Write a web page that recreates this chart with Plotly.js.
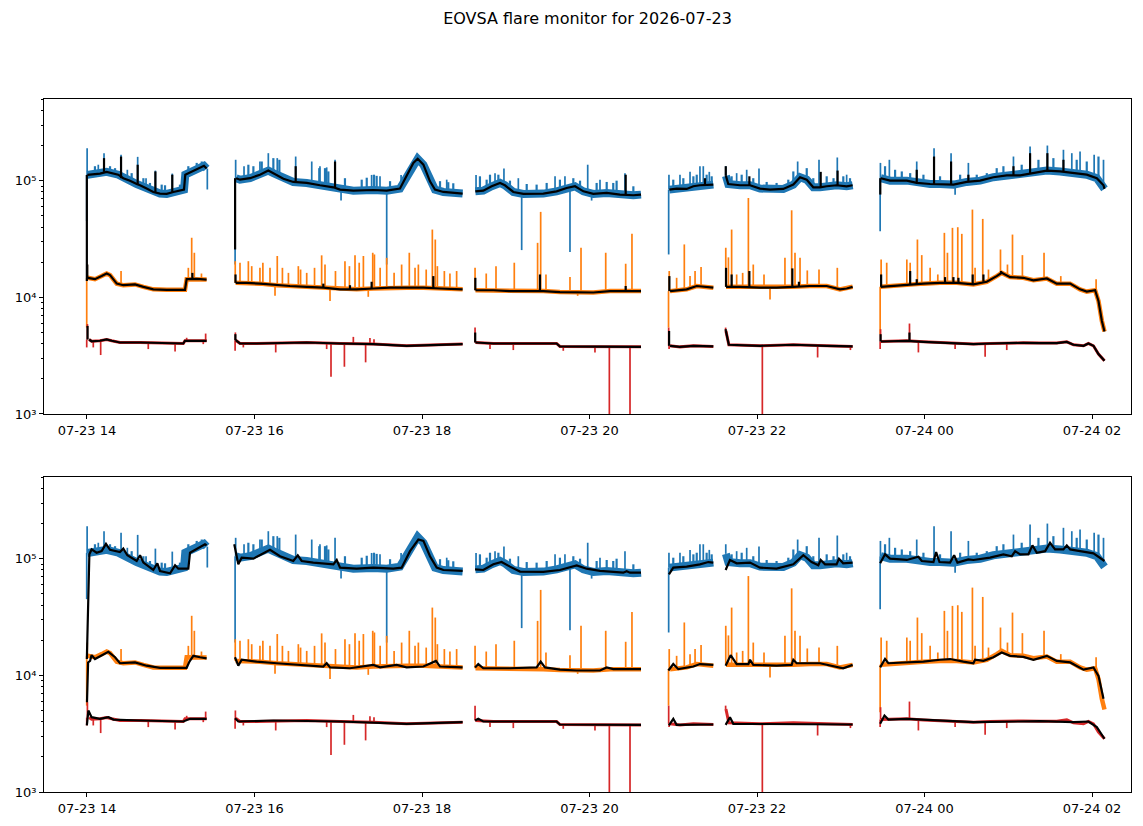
<!DOCTYPE html>
<html><head><meta charset="utf-8">
<script src="https://cdn.plot.ly/plotly-3.0.1.min.js"></script>
<style>body{margin:0;background:#fff}#chart{width:1143px;height:826px}</style>
</head><body><div id="chart"></div>
<script>
// times: minutes after 2026-07-23 00:00 ; null = data gap
// ---- blue series (band centre) ----
const blueT = [840.3,849.3,854.1,862.4,866,870.8,875.6,878,882.7,887.5,892.3,897.1,901.9,906.6,909.5,910.4,916.2,921,923.8,925.7,null,
946.8,949.6,956.8,963.9,969.9,973.5,980.7,987.8,997.4,1006.9,1016.5,1021.3,1030.8,1045.1,1054.7,1064.2,1069,1073.8,1076.9,1081,1085.7,1089.3,1095.3,1102.4,1109.1,null,
1118.2,1123.9,1129.9,1135.9,1139.4,1145.4,1152.6,1166.9,1176.4,1183.6,1189.6,1195.6,1202.7,1212.3,1221.8,1231.4,1236.9,null,
1257.2,1262.4,1269.6,1274.4,1279.1,1283.9,1288.7,null,
1297.7,1299.4,1307.8,1315,1322.1,1329.3,1338.8,1346,1350.8,1355.6,1360.3,1365.1,1369.9,1377,1384.2,1388.5,null,
1408.6,1415.3,1427.3,1434.4,1444,1451.1,1460.7,1470.2,1479.8,1489.3,1498.9,1508.5,1518,1527.6,1537.1,1546.7,1556.2,1563.4,1568.2,1568.9];
const blueV = [1.12e5,1.15e5,1.19e5,1.125e5,1.05e5,1.0e5,9.36e4,9.13e4,8.55e4,8.0e4,7.75e4,7.7e4,8.0e4,8.21e4,8.38e4,1.125e5,1.22e5,1.30e5,1.34e5,1.27e5,null,
1.05e5,1.02e5,1.05e5,1.125e5,1.22e5,1.16e5,1.04e5,9.75e4,9.56e4,9.13e4,8.77e4,8.38e4,8.21e4,8.32e4,8.21e4,8.55e4,1.09e5,1.42e5,1.54e5,1.37e5,9.87e4,8.38e4,8.0e4,7.85e4,7.75e4,null,
8.1e4,8.21e4,8.95e4,9.56e4,9.13e4,8.0e4,7.7e4,7.75e4,8.1e4,8.65e4,8.95e4,8.1e4,7.7e4,7.85e4,7.59e4,7.5e4,7.59e4,null,
8.38e4,8.55e4,8.49e4,8.95e4,9.13e4,9.25e4,9.25e4,null,
1.1e5,9.36e4,9.13e4,9.13e4,8.55e4,8.38e4,8.49e4,9.25e4,1.07e5,1.02e5,8.77e4,8.77e4,8.95e4,9.13e4,8.95e4,9.13e4,null,
1.05e5,1.0e5,1.0e5,9.56e4,9.36e4,9.36e4,9.25e4,9.75e4,1.0e5,1.07e5,1.11e5,1.11e5,1.16e5,1.22e5,1.2e5,1.16e5,1.125e5,1.05e5,9.13e4,8.5e4];
// blue spikes (large peaks / dips)
const blueSpikeT = [839.8,840.1,848.1,852.2,864.4,868.9,876.3,882.3,889,901.1,926.2,
946.1,946.5,952.5,963.9,969.9,976.3,989.5,1001,1006.9,1011.7,1017.7,1022,1043.9,1049.9,1054.7,1065,1097.7,
1118.7,1132.3,1138.7,1149,1151.4,1175.3,1182.4,1186,1198.7,1201.5,1207.5,1225.4,
1256.7,1256.9,1264.8,1272,1279.1,1281.5,1285.8,
1297.6,1305.4,1312.6,1321.4,1349.1,1364.4,1377.5,1384.2,
1408.2,1408.4,1414.8,1434.4,1446.8,1459,1461.9,1471.4,1503.7,1515.6,1528,1539.5,1545.5,1551.4,1561.5,1568.2];
const blueSpikeV = [4.5e4,1.9e5,1.37e5,1.72e5,1.67e5,1.24e5,1.6e5,1.05e5,1.22e5,1.15e5,8.4e4,
1.91e4,1.51e5,1.33e5,1.46e5,1.72e5,1.56e5,1.61e5,1.46e5,1.33e5,1.3e5,1.51e5,6.75e4,1.12e5,1.09e5,1.91e4,1.12e5,1.02e5,
1.12e5,1.16e5,1.27e5,1.05e5,2.54e4,1.09e5,1.09e5,2.44e4,1.37e5,6.75e4,1.02e5,1.16e5,
2.33e4,1.125e5,1.125e5,1.19e5,1.33e5,1.33e5,1.19e5,
1.33e5,1.16e5,1.24e5,1.27e5,1.46e5,1.51e5,1.58e5,1.125e5,
3.69e4,1.42e5,1.51e5,1.46e5,1.9e5,1.72e5,7.59e4,1.42e5,1.61e5,1.96e5,2.0e5,1.84e5,1.72e5,1.78e5,1.67e5,1.51e5];
// blue small fringe peaks on top of the band
const blueFringeT = [845.7,856.5,860.1,872,880.4,885.1,893.5,895.9,906.6,912.6,918.6,922.2,
955.6,959.2,965.2,973.5,977.8,1006.4,1010.5,1012.9,1024.8,1036.8,1040.4,1045.6,1047.5,1057.1,1092.9,1098.8,1102.4,
1121.5,1126.3,1128.7,1134.7,1143,1155,1162.1,1169.3,1178.8,1188.4,1193.2,1205.1,1212.3,1217,1219.4,1231.4,
1260,1267.2,1274.4,1276.8,1283.9,1287.5,
1301.8,1309,1317.3,1326.9,1334,1342.4,1346,1355.6,1360.3,1369.9,1374.8,1381.8,1386.6,
1411.7,1418.9,1423.7,1429.7,1439.2,1451.1,1465.5,1477.4,1484.6,1491.7,1496.5,1509.6,1521.6,1532.3,1549,1556.2,1564.6];
const blueFringeV = [1.33e5,1.33e5,1.28e5,1.16e5,1.05e5,9.56e4,9.25e4,9.13e4,9.25e4,1.33e5,1.42e5,1.46e5,
1.37e5,1.33e5,1.46e5,1.56e5,1.51e5,1.28e5,1.28e5,1.2e5,1.05e5,1.02e5,1.06e5,1.125e5,1.1e5,9.9e4,9.9e4,9.7e4,9.5e4,
1.09e5,1.02e5,1.125e5,1.125e5,1.0e5,9.36e4,9.25e4,9.56e4,1.02e5,1.05e5,1.0e5,9.56e4,9.75e4,9.56e4,1.0e5,8.95e4,
1.02e5,1.05e5,1.09e5,1.125e5,1.125e5,1.09e5,
1.09e5,1.125e5,1.05e5,9.75e4,9.56e4,1.02e5,1.2e5,1.28e5,1.05e5,1.09e5,1.05e5,1.09e5,1.05e5,
1.33e5,1.24e5,1.2e5,1.16e5,1.125e5,1.09e5,1.125e5,1.125e5,1.16e5,1.28e5,1.33e5,1.37e5,1.51e5,1.56e5,1.51e5,1.46e5,1.61e5];
// ---- orange series ----
const orangeT = [840.5,845.7,850.5,854.1,856.5,861.3,866,874.4,880.4,887.5,897.1,910.2,911.4,918.6,925.7,null,
946.5,954.4,963.9,975.9,985.4,997.4,1009.3,1021.3,1033.2,1045.1,1057.1,1069,1081,1092.9,1109.1,null,
1118.3,1131.1,1143,1155,1166.9,1178.8,1190.8,1202.7,1214.7,1226.6,1236.9,null,
1257.7,1264.8,1269.6,1276.8,1283.9,1288.7,null,
1297.8,1307.8,1322.1,1334,1346,1357.9,1369.9,1379.4,1384.2,1388.5,null,
1408.6,1415.3,1427.3,1439.2,1451.1,1463.1,1475,1484.6,1491.7,1495.3,1501.3,1510.8,1518,1527.6,1534.7,1544.3,1551.4,1556.2,1562.2,1564.6,1567,1568.9];
const orangeV = [1.47e4,1.43e4,1.52e4,1.6e4,1.55e4,1.31e4,1.27e4,1.29e4,1.23e4,1.17e4,1.16e4,1.16e4,1.43e4,1.44e4,1.42e4,null,
1.33e4,1.33e4,1.31e4,1.27e4,1.25e4,1.23e4,1.21e4,1.17e4,1.17e4,1.19e4,1.21e4,1.21e4,1.21e4,1.19e4,1.17e4,null,
1.15e4,1.15e4,1.13e4,1.13e4,1.13e4,1.11e4,1.10e4,1.10e4,1.13e4,1.13e4,1.13e4,null,
1.13e4,1.15e4,1.17e4,1.25e4,1.23e4,1.21e4,null,
1.23e4,1.23e4,1.21e4,1.21e4,1.23e4,1.25e4,1.25e4,1.17e4,1.19e4,1.23e4,null,
1.23e4,1.25e4,1.29e4,1.31e4,1.33e4,1.33e4,1.29e4,1.36e4,1.52e4,1.62e4,1.49e4,1.47e4,1.40e4,1.45e4,1.31e4,1.31e4,1.17e4,1.12e4,1.15e4,9.3e3,6.3e3,5.1e3];
const orangeSpikeT = [839.8,840.2,864.4,912.6,915,916.9,922,
946.2,949.6,955.6,958,963.9,966,971.1,974.7,976.3,980,984.3,991.4,993,997.4,1003,1008.1,1010.5,1014.1,1018,1024.8,1028,1032,1035,1038,1041.5,1044.7,1045.9,1050,1054.7,1060,1065.4,1070.9,1075,1077.4,1083,1087.4,1089.5,1091,1096,1100,1104.8,
1118,1126,1133,1146.1,1162.8,1165,1168.8,1186,1191.5,1193.9,1211.6,1225.9,1230.4,
1256.6,1257.1,1262.4,1267.9,1272,1275.6,1279.9,
1297.6,1299.5,1301.8,1305.4,1309.7,1313.8,1317.3,1325,1329.3,1340,1344.8,1347.2,1350.8,1356,1364.4,1377.5,
1408.2,1408.9,1412.9,1427.3,1429.7,1434.9,1438,1444,1449.5,1454.2,1456.4,1460,1463.8,1466.7,1474.3,1476.2,1481.7,1485.8,1494.4,1499.4,1503,1510.1,1525.6,1537.6,1562.9];
const orangeSpikeV = [5.5e3,1.91e4,1.68e4,1.79e4,3.24e4,2.41e4,1.6e4,
2.04e4,1.98e4,2.04e4,1.85e4,1.79e4,1.98e4,1.79e4,1.03e4,2.26e4,1.79e4,1.62e4,1.85e4,1.73e4,1.62e4,1.79e4,2.29e4,1.91e4,9.3e3,1.68e4,2.04e4,1.85e4,2.29e4,1.98e4,2.26e4,1.01e4,2.41e4,2.33e4,1.79e4,2.18e4,1.62e4,1.91e4,2.41e4,1.79e4,1.91e4,1.73e4,3.81e4,3.13e4,1.85e4,1.68e4,1.6e4,1.68e4,
1.79e4,1.6e4,1.85e4,1.98e4,2.93e4,5.4e4,1.57e4,1.49e4,1.03e4,2.66e4,2.41e4,1.94e4,3.5e4,
5.5e3,1.68e4,1.47e4,2.84e4,1.52e4,1.68e4,1.82e4,
2.66e4,2.2e4,3.81e4,1.57e4,1.62e4,7.1e4,1.91e4,1.57e4,9.6e3,2.18e4,5.57e4,2.41e4,2.18e4,1.7e4,1.73e4,1.79e4,
4.83e3,2.11e4,1.98e4,2.11e4,1.98e4,3.13e4,2.3e4,1.79e4,1.57e4,3.57e4,2.41e4,3.94e4,3.99e4,3.5e4,5.65e4,1.79e4,4.7e4,1.73e4,2.57e4,1.91e4,3.45e4,2.3e4,2.41e4,1.52e4,1.43e4];
// ---- red series ----
const redT = [841.5,843.3,849.3,854.1,857.7,863.6,878,897.1,909,910.2,925.7,null,
946.5,949.6,961.5,973.5,997.4,1021.3,1045.1,1069,1092.9,1109.1,null,
1118.3,1131.1,1155,1176.4,1178.8,1202.7,1236.9,null,
1257.7,1264.8,1274.4,1288.7,null,
1297.7,1299.8,1322.1,1346,1369.9,1388.5,null,
1408.8,1415.3,1427.3,1439.2,1451.1,1463.1,1475,1486.9,1498.9,1510.8,1522.8,1534.7,1541.9,1546.7,1553.9,1557.4,1561,1564.6,1568.9];
const redV = [4.35e3,4.2e3,4.24e3,4.35e3,4.24e3,4.1e3,4.1e3,4.02e3,4.02e3,4.24e3,4.24e3,null,
4.29e3,4.02e3,4.02e3,4.05e3,4.1e3,4.02e3,3.97e3,3.84e3,3.92e3,3.97e3,null,
4.1e3,4.02e3,4.02e3,4.02e3,3.79e3,3.76e3,3.76e3,null,
3.84e3,3.76e3,3.84e3,3.79e3,null,
5.15e3,3.92e3,3.84e3,3.92e3,3.84e3,3.79e3,null,
4.18e3,4.18e3,4.24e3,4.15e3,4.1e3,4.02e3,3.97e3,4.02e3,4.07e3,4.07e3,4.05e3,4.05e3,4.15e3,3.92e3,3.84e3,4.02e3,3.84e3,3.26e3,2.86e3];
const redSpikeT = [839.8,840.3,844.5,849.8,883.9,903.1,911.4,923.3,925,
946.1,946.3,952,975.2,1011.7,1014.8,1024.4,1030.8,1039.6,1042.7,1045.6,
1118,1128.7,1145.4,1181.2,1203.9,1214.2,1229,
1256.7,1257,
1297.5,1323.8,1363.4,1386.9,
1408.2,1408.5,1429.2,1435.6,1461.9,1483.4,1498.9];
const redSpikeV = [3.72e3,5.9e3,3.72e3,3.2e3,3.6e3,3.43e3,4.5e3,3.97e3,4.89e3,
3.48e3,5.0e3,3.72e3,3.37e3,3.6e3,2.08e3,2.54e3,4.58e3,2.77e3,4.47e3,4.38e3,
5.5e3,3.6e3,3.53e3,3.48e3,3.37e3,500,500,
5.5e3,3.6e3,
5.5e3,500,3.05e3,3.53e3,
3.6e3,5.33e3,5.96e3,3.37e3,3.6e3,3.09e3,3.53e3];
// ---- upper panel black running median: spikes kept ----
const blackBlueSpikeT = [839.9,852.2,864.4,876.3,889,901.1,946.1,989.5,1017.7,1225.9,1282.7,1297.6,1314.5,1365.6,1377.7,1408.3,1434.4,1446.8,1459,1471.4,1503.7,1515.6,1528,1539.5];
const blackBlueSpikeV = [1.38e4,1.56e5,1.61e5,1.37e5,1.2e5,1.125e5,2.57e4,1.33e5,1.46e5,1.125e5,1.05e5,1.33e5,1.09e5,1.19e5,1.22e5,7.6e4,1.24e5,1.61e5,1.46e5,1.125e5,1.33e5,1.72e5,1.72e5,1.51e5];
const blackOrangeSpikeT = [840.2,915.5,946.4,1009.3,1028.4,1043.9,1088.1,1118.2,1164.5,1225.9,1257.2,1297.8,1301.8,1314.5,1345.3,1350,1408.9,1429.7,1434.4,1454.7,1460.7,1464.3,1474.5,1482.2,1494.8];
const blackOrangeSpikeV = [1.91e4,1.62e4,1.57e4,1.31e4,1.27e4,1.36e4,1.52e4,1.47e4,1.57e4,1.25e4,1.52e4,1.79e4,1.57e4,1.68e4,1.77e4,1.36e4,1.57e4,1.68e4,1.43e4,1.49e4,1.49e4,1.47e4,1.57e4,1.57e4,1.68e4];
const blackRedSpikeT = [840.4,946.3,1118.1,1257,1297.6,1408.5,1429.2];
const blackRedSpikeV = [5.69e3,4.83e3,4.99e3,5.15e3,5.33e3,4.83e3,4.99e3];
// ---- lower panel black: smoothed ----
const smoothBlueT = [839.9,841.7,843.3,846.9,850.5,853.6,856.5,863.6,866,868.9,875.6,878,880.4,887.5,890.4,892.3,899.5,903.1,905.4,912.6,913.8,918.6,924.5,925.7,null,
945.5,948.4,950.8,959.2,971.1,978.3,987.8,991,993.8,1002.1,1016.5,1018.9,1021.3,1033.2,1045.1,1059.4,1065.4,1071.4,1077.4,1081,1085.7,1090.5,1095.3,1109.1,null,
1118,1123.9,1131.1,1137,1143,1150.2,1166.9,1178.8,1190.8,1197.9,1207.5,1224.2,1226.6,1229,1236.9,null,
1256.9,1260,1269.6,1279.1,1285.1,1288.7,null,
1297.5,1300.6,1305.4,1315,1322.1,1334,1346,1353.2,1359.1,1363.9,1365.6,1368.7,1377,1378.7,1381.7,1388.5,null,
1408.2,1411.7,1415.3,1427.3,1435.6,1438,1446.4,1448.3,1450.7,1458.3,1461.2,1463.6,1471.4,1475,1486.9,1496.5,1502.5,1504.9,1508.5,1514.4,1517.3,1520.4,1526.4,1529.9,1533.5,1539.5,1541.9,1544.3,1551.4,1561,1568.9];
const smoothBlueV = [1.38e4,1.09e5,1.2e5,1.125e5,1.16e5,1.34e5,1.19e5,1.14e5,1.22e5,1.07e5,9.56e4,1.07e5,9.25e4,8.0e4,9.13e4,7.85e4,7.5e4,8.77e4,8.21e4,8.21e4,1.125e5,1.22e5,1.33e5,1.3e5,null,
1.33e5,8.95e4,1.02e5,1.0e5,1.19e5,1.05e5,9.56e4,1.07e5,9.56e4,9.25e4,8.95e4,9.75e4,8.38e4,8.21e4,8.38e4,8.21e4,8.38e4,1.16e5,1.46e5,1.42e5,1.05e5,8.38e4,8.0e4,7.85e4,null,
8.1e4,8.0e4,8.95e4,9.36e4,8.55e4,7.75e4,7.7e4,8.0e4,8.77e4,8.21e4,7.85e4,7.59e4,7.8e4,7.59e4,7.59e4,null,
7.35e4,8.38e4,8.55e4,8.95e4,9.36e4,9.25e4,null,
8.0e4,9.75e4,9.13e4,9.25e4,8.38e4,8.21e4,8.95e4,1.07e5,9.36e4,8.77e4,9.75e4,8.95e4,8.95e4,1.0e5,9.13e4,9.25e4,null,
9.13e4,1.09e5,1.0e5,9.75e4,1.04e5,9.56e4,9.36e4,1.14e5,9.36e4,9.25e4,1.07e5,9.25e4,9.87e4,9.75e4,1.02e5,1.09e5,1.05e5,1.16e5,1.09e5,1.09e5,1.3e5,1.125e5,1.16e5,1.37e5,1.2e5,1.2e5,1.3e5,1.2e5,1.16e5,1.11e5,9.56e4];
const smoothOrangeT = [840,840.8,842.2,843.3,845.7,850.5,855.3,860.1,863.6,874.4,882.7,892.3,911.4,913.4,916.2,921,925.7,null,
946,948.4,950.8,961.5,975.9,997.4,1009.3,1011.7,1014.1,1028.4,1045.1,1050,1061.8,1069,1081,1090,1092.9,1109.1,null,
1118,1120.3,1123.9,1143,1162.1,1165,1168.1,1178.8,1190.8,1207.5,1212.3,1217,1236.9,null,
1256.5,1260,1263.6,1274.4,1279.1,1288.7,null,
1297.5,1301.1,1305.4,1313.8,1315,1317.3,1334,1344.8,1346,1348.4,1365.1,1377,1381.7,1388.5,null,
1408.2,1411.7,1414.1,1427.3,1439.2,1451.1,1458.3,1467.8,1475,1476.2,1482.2,1489.3,1495.3,1501.3,1510.8,1518,1527.6,1534.7,1544.3,1553.9,1561,1564.6,1568.2];
const smoothOrangeV = [5.88e3,1.29e4,1.33e4,1.49e4,1.38e4,1.47e4,1.59e4,1.43e4,1.27e4,1.29e4,1.21e4,1.16e4,1.16e4,1.31e4,1.47e4,1.43e4,1.4e4,null,
1.43e4,1.21e4,1.36e4,1.31e4,1.27e4,1.21e4,1.19e4,1.27e4,1.17e4,1.15e4,1.23e4,1.17e4,1.23e4,1.17e4,1.19e4,1.33e4,1.19e4,1.17e4,null,
1.17e4,1.25e4,1.15e4,1.15e4,1.17e4,1.31e4,1.17e4,1.12e4,1.1e4,1.1e4,1.17e4,1.13e4,1.13e4,null,
1.1e4,1.25e4,1.13e4,1.19e4,1.25e4,1.23e4,null,
1.21e4,1.49e4,1.25e4,1.25e4,1.36e4,1.23e4,1.21e4,1.23e4,1.36e4,1.27e4,1.27e4,1.19e4,1.15e4,1.23e4,null,
1.17e4,1.38e4,1.27e4,1.29e4,1.31e4,1.36e4,1.38e4,1.31e4,1.27e4,1.36e4,1.33e4,1.43e4,1.57e4,1.47e4,1.44e4,1.36e4,1.47e4,1.33e4,1.29e4,1.12e4,1.17e4,9.9e3,6.3e3];
const smoothRedT = [839.9,841,843.3,849.3,855.3,859,878,909,913.8,925.7,null,
946,948.4,973.5,1021.3,1069,1109.1,null,
1118,1120.3,1123.9,1176.4,1178.8,1236.9,null,
1256.9,1260,1262.4,1288.7,null,
1297.5,1300.6,1303,1388.5,null,
1408.2,1411.3,1414.1,1427.3,1475,1522.8,1546.7,1557.4,1563.4,1568.9];
const smoothRedV = [3.72e3,4.99e3,4.38e3,4.24e3,4.38e3,4.18e3,4.1e3,4.02e3,4.24e3,4.24e3,null,
4.29e3,4.02e3,4.1e3,4.02e3,3.84e3,3.97e3,null,
4.1e3,4.24e3,4.02e3,4.02e3,3.79e3,3.76e3,null,
3.72e3,4.24e3,3.76e3,3.79e3,null,
3.76e3,4.38e3,3.84e3,3.79e3,null,
3.84e3,4.52e3,4.18e3,4.24e3,3.97e3,4.05e3,3.97e3,4.02e3,3.6e3,2.86e3];
// tick labels
const yTickVals = [1e3, 1e4, 1e5];
const yTickText = ['10³', '10⁴', '10⁵'];
const titleText = 'EOVSA flare monitor for 2026-07-23';

const DAY0 = Date.UTC(2026, 6, 23, 0, 0, 0);
function toDate(m) {
  if (m === null) return null;
  return new Date(DAY0 + m * 60000).toISOString().slice(0, 19).replace('T', ' ');
}
function nearestBase(T, V, t) {
  let best = null, bd = Infinity;
  for (let i = 0; i < T.length; i++) {
    if (T[i] === null) continue;
    const d = Math.abs(T[i] - t);
    if (d < bd) { bd = d; best = V[i]; }
  }
  return best;
}
function lineTrace(T, V, color, width, ax) {
  return {x: T.map(toDate), y: V, type: 'scatter', mode: 'lines', connectgaps: false,
    line: {color: color, width: width}, hoverinfo: 'skip', xaxis: ax[0], yaxis: ax[1]};
}
function spikeTrace(T, V, sT, sV, color, width, ax) {
  const xs = [], ys = [];
  for (let i = 0; i < sT.length; i++) {
    const d = toDate(sT[i]);
    xs.push(d, d, null);
    ys.push(nearestBase(T, V, sT[i]), sV[i], null);
  }
  return {x: xs, y: ys, type: 'scatter', mode: 'lines', connectgaps: false,
    line: {color: color, width: width}, hoverinfo: 'skip', xaxis: ax[0], yaxis: ax[1]};
}
const BLUE = '#1f77b4', ORANGE = '#ff7f0e', RED = '#d62728', BLACK = '#000000';
const traces = [];
[['x', 'y'], ['x2', 'y2']].forEach(function (ax) {
  traces.push(spikeTrace(blueT, blueV, blueSpikeT, blueSpikeV, BLUE, 1.7, ax));
  traces.push(spikeTrace(blueT, blueV, blueFringeT, blueFringeV, BLUE, 2.2, ax));
  traces.push(lineTrace(blueT, blueV, BLUE, 8, ax));
  traces.push(spikeTrace(orangeT, orangeV, orangeSpikeT, orangeSpikeV, ORANGE, 1.7, ax));
  traces.push(lineTrace(orangeT, orangeV, ORANGE, 4.5, ax));
  traces.push(spikeTrace(redT, redV, redSpikeT, redSpikeV, RED, 1.7, ax));
  traces.push(lineTrace(redT, redV, RED, 3, ax));
});
// upper panel black
const A1 = ['x', 'y'], A2 = ['x2', 'y2'];
traces.push(lineTrace(blueT, blueV, BLACK, 2.2, A1));
traces.push(spikeTrace(blueT, blueV, blackBlueSpikeT, blackBlueSpikeV, BLACK, 2.2, A1));
traces.push(lineTrace(orangeT, orangeV, BLACK, 2.2, A1));
traces.push(spikeTrace(orangeT, orangeV, blackOrangeSpikeT, blackOrangeSpikeV, BLACK, 2.2, A1));
traces.push(lineTrace(redT, redV, BLACK, 2.2, A1));
traces.push(spikeTrace(redT, redV, blackRedSpikeT, blackRedSpikeV, BLACK, 2.2, A1));
// lower panel black
traces.push(lineTrace(smoothBlueT, smoothBlueV, BLACK, 2.2, A2));
traces.push(lineTrace(smoothOrangeT, smoothOrangeV, BLACK, 2.2, A2));
traces.push(lineTrace(smoothRedT, smoothRedV, BLACK, 2.2, A2));

const font = {family: 'DejaVu Sans, sans-serif', size: 13, color: '#000'};
function xAxis(anchor) {
  return {type: 'date', anchor: anchor, range: [toDate(809.2), toDate(1587.9)],
    tick0: '2026-07-23 00:00:00', dtick: 7200000, tickformat: '%m-%d %H',
    ticks: 'outside', ticklen: 4, tickwidth: 1, tickcolor: '#000',
    showgrid: false, zeroline: false, showline: true, mirror: true, linecolor: '#000', linewidth: 1,
    tickfont: font};
}
function yAxis(anchor, domain) {
  return {type: 'log', anchor: anchor, domain: domain, range: [3, 5.7],
    tickmode: 'array', tickvals: yTickVals, ticktext: yTickText,
    ticks: 'outside', ticklen: 4, tickwidth: 1, tickcolor: '#000',
    minor: {ticks: 'outside', ticklen: 2.5, tickcolor: '#000', dtick: 'D1', showgrid: false},
    showgrid: false, zeroline: false, showline: true, mirror: true, linecolor: '#000', linewidth: 1,
    tickfont: font};
}
const layout = {
  width: 1143, height: 826, showlegend: false,
  paper_bgcolor: '#fff', plot_bgcolor: '#fff',
  margin: {l: 44, r: 12, t: 99, b: 34},
  title: {text: titleText, x: 0.5, xref: 'paper', y: 1 - 18 / 826, yref: 'container', yanchor: 'middle',
    font: {family: 'DejaVu Sans, sans-serif', size: 16, color: '#000'}},
  xaxis: xAxis('y'), yaxis: yAxis('x', [0.5455, 1]),
  xaxis2: xAxis('y2'), yaxis2: yAxis('x2', [0, 0.4545])
};
Plotly.newPlot('chart', traces, layout, {staticPlot: true, displayModeBar: false});
</script>
</body></html>
